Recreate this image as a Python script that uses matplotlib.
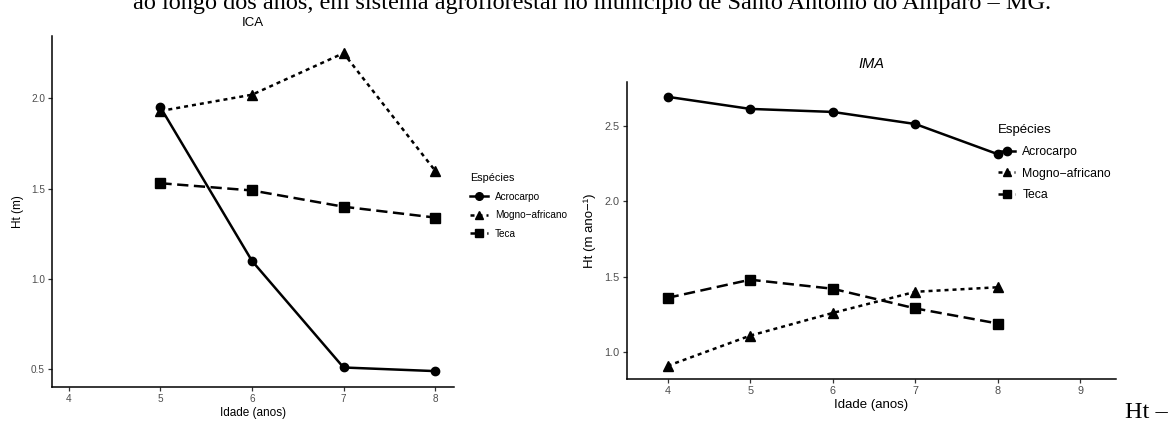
import matplotlib
matplotlib.use("Agg")
import matplotlib.pyplot as plt

plt.rcParams['font.family'] = ['Liberation Sans', 'DejaVu Sans']

W, H = 1171, 421

species = ["Acrocarpo", "Mogno\u2212africano", "Teca"]

# ICA (left panel)
ica_ages = [5, 6, 7, 8]
ica_acrocarpo = [1.95, 1.10, 0.51, 0.49]
ica_mogno = [1.93, 2.02, 2.25, 1.60]
ica_teca = [1.53, 1.49, 1.40, 1.34]

# IMA (right panel)
ima_ages = [4, 5, 6, 7, 8]
ima_acrocarpo = [2.69, 2.61, 2.59, 2.51, 2.31]
ima_mogno = [0.91, 1.11, 1.26, 1.40, 1.43]
ima_teca = [1.36, 1.48, 1.42, 1.29, 1.19]

ica_xticks = [4, 5, 6, 7, 8]
ica_yticks = [0.5, 1.0, 1.5, 2.0]
ima_xticks = [4, 5, 6, 7, 8, 9]
ima_yticks = [1.0, 1.5, 2.0, 2.5]

styles = [
    dict(ls='-', marker='o', ms=6),
    dict(ls=(0, (1.6, 1.6)), marker='^', ms=7),
    dict(ls=(0, (4.5, 2.2)), marker='s', ms=6.5),
]

fig = plt.figure(figsize=(W / 100, H / 100), dpi=100)


def px_axes(x0, y0, x1, y1):
    return fig.add_axes([x0 / W, 1 - y1 / H, (x1 - x0) / W, (y1 - y0) / H])


def style_axes(ax, tick_fs):
    for s in ['top', 'right']:
        ax.spines[s].set_visible(False)
    for s in ['left', 'bottom']:
        ax.spines[s].set_linewidth(1.1)
        ax.spines[s].set_color('black')
    ax.tick_params(axis='both', direction='out', length=3, width=0.9,
                   color='#333333', labelcolor='#4D4D4D', labelsize=tick_fs, pad=2)


def draw(ax, ages, series, lw):
    handles = []
    for vals, st, name in zip(series, styles, species):
        h, = ax.plot(ages, vals, color='black', lw=lw, ls=st['ls'], marker=st['marker'],
                     ms=st['ms'], mec='black', mfc='black', label=name)
        handles.append(h)
    return handles


# Left panel
ax1 = px_axes(52, 36, 454, 387)
h1 = draw(ax1, ica_ages, [ica_acrocarpo, ica_mogno, ica_teca], 1.8)
ax1.set_xlim(3.815, 8.207)
ax1.set_ylim(0.402, 2.345)
ax1.set_xticks(ica_xticks)
ax1.set_yticks(ica_yticks)
ax1.set_yticklabels([f"{v:.1f}" for v in ica_yticks])
style_axes(ax1, 7.2)
ax1.set_title("ICA", fontsize=9.5, color='black', pad=7)
ax1.set_xlabel("Idade (anos)", fontsize=8.5, labelpad=2)
ax1.set_ylabel("Ht (m)", fontsize=8.5, labelpad=5)
leg1 = ax1.legend(handles=h1, title="Esp\u00e9cies", loc='upper left',
                  bbox_to_anchor=(470 / W, 1 - 173 / H), bbox_transform=fig.transFigure,
                  frameon=False, fontsize=7.2, title_fontsize=7.8, handlelength=1.8,
                  handletextpad=0.7, labelspacing=0.85, borderaxespad=0, borderpad=0)
leg1._legend_box.align = 'left'
for lh in leg1.legend_handles:
    lh.set_markersize(5.5)

# Right panel
ax2 = px_axes(626.7, 81.7, 1116, 379.3)
h2 = draw(ax2, ima_ages, [ima_acrocarpo, ima_mogno, ima_teca], 1.8)
ax2.set_xlim(3.504, 9.43)
ax2.set_ylim(0.821, 2.79)
ax2.set_xticks(ima_xticks)
ax2.set_yticks(ima_yticks)
ax2.set_yticklabels([f"{v:.1f}" for v in ima_yticks])
style_axes(ax2, 7.8)
ax2.set_title("IMA", fontsize=10.5, style='italic', color='black', pad=10)
ax2.set_xlabel("Idade (anos)", fontsize=9.5, labelpad=2)
ax2.set_ylabel("Ht (m ano\u2212\u00b9)", fontsize=9.5, labelpad=6)
leg2 = ax2.legend(handles=h2, title="Esp\u00e9cies", loc='upper left',
                  bbox_to_anchor=(998 / W, 1 - 124 / H), bbox_transform=fig.transFigure,
                  frameon=False, fontsize=8.8, title_fontsize=9.5, handlelength=1.4,
                  handletextpad=0.6, labelspacing=0.8, borderaxespad=0, borderpad=0)
leg2._legend_box.align = 'left'
for lh in leg2.legend_handles:
    lh.set_markersize(6)

# Surrounding document text (cropped at the top edge, as in the reference)
fig.text(592 / W, 1 - 9.5 / H,
         "ao longo dos anos, em sistema agroflorestal no munic\u00edpio de Santo Ant\u00f4nio do Amparo \u2013 MG.",
         ha='center', va='baseline', fontsize=17.5, family='Liberation Serif', color='black')
fig.text(1125 / W, 1 - 418 / H, "Ht \u2013", ha='left', va='baseline', fontsize=17.5,
         family='Liberation Serif', color='black')

fig.savefig("out.png", dpi=100)
